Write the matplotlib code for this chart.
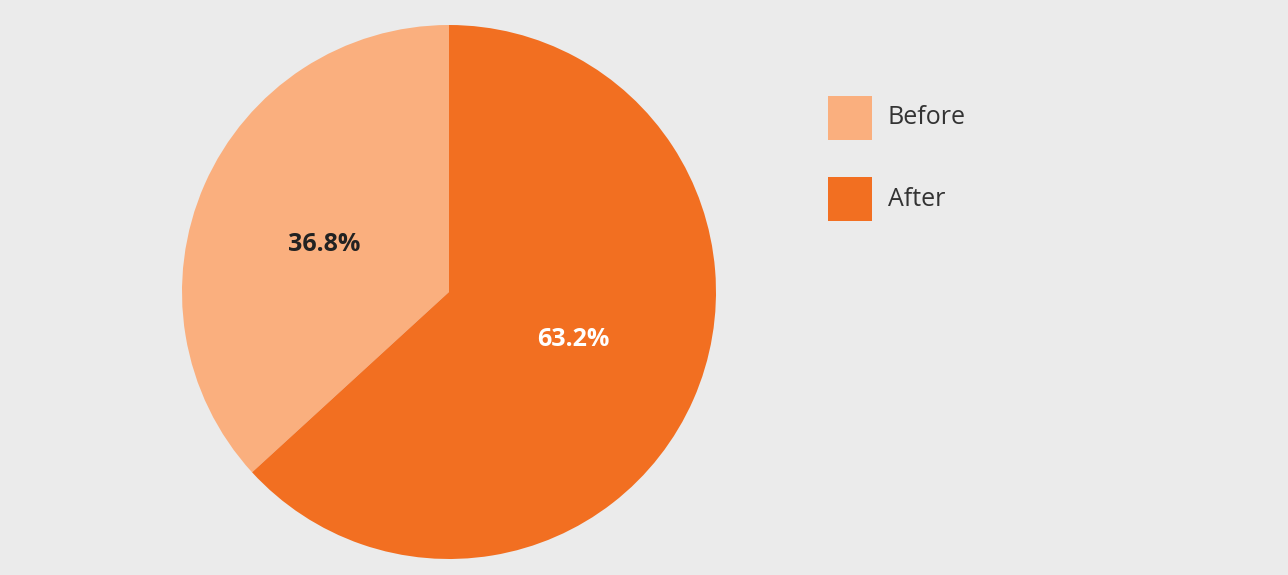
import matplotlib
matplotlib.use("Agg")
import matplotlib.pyplot as plt
from matplotlib.patches import Rectangle
import numpy as np

labels = ["Before", "After"]
values = [36.8, 63.2]
colors = ["#FAAF7E", "#F26F21"]
pct_colors = ["#222222", "#FFFFFF"]

W, H = 1288, 575
fig = plt.figure(figsize=(W / 100, H / 100), dpi=100)
fig.patch.set_facecolor("#EBEBEB")

cx, cy, r = 449, 292, 267
ax = fig.add_axes([(cx - r) / W, (H - cy - r) / H, 2 * r / W, 2 * r / H])
ax.set_facecolor("#EBEBEB")

wedges, texts = ax.pie(values, colors=colors, startangle=90,
                       counterclock=True, radius=1.0)
for w, v, c in zip(wedges, values, pct_colors):
    ang = np.deg2rad((w.theta1 + w.theta2) / 2 + 2.7)
    d = 0.5
    ax.text(d * np.cos(ang), d * np.sin(ang), f"{v:.1f}%", ha="center",
            va="center", fontsize=18, fontweight="bold", family="Open Sans",
            color=c)
ax.set_xlim(-1, 1)
ax.set_ylim(-1, 1)
ax.set_aspect("equal")

# legend drawn as squares + labels
box = 44
x0, y0, step = 828, 96, 81
for i, (lab, col) in enumerate(zip(labels, colors)):
    top = y0 + i * step
    fig.patches.append(Rectangle(((x0) / W, 1 - (top + box) / H), box / W, box / H,
                                 transform=fig.transFigure, facecolor=col,
                                 edgecolor="none"))
    fig.text((x0 + box + 16) / W, 1 - (top + box / 2) / H, lab, ha="left",
             va="center", fontsize=18, family="Open Sans", color="#333333")

fig.savefig("out.png", dpi=100, facecolor=fig.get_facecolor())
